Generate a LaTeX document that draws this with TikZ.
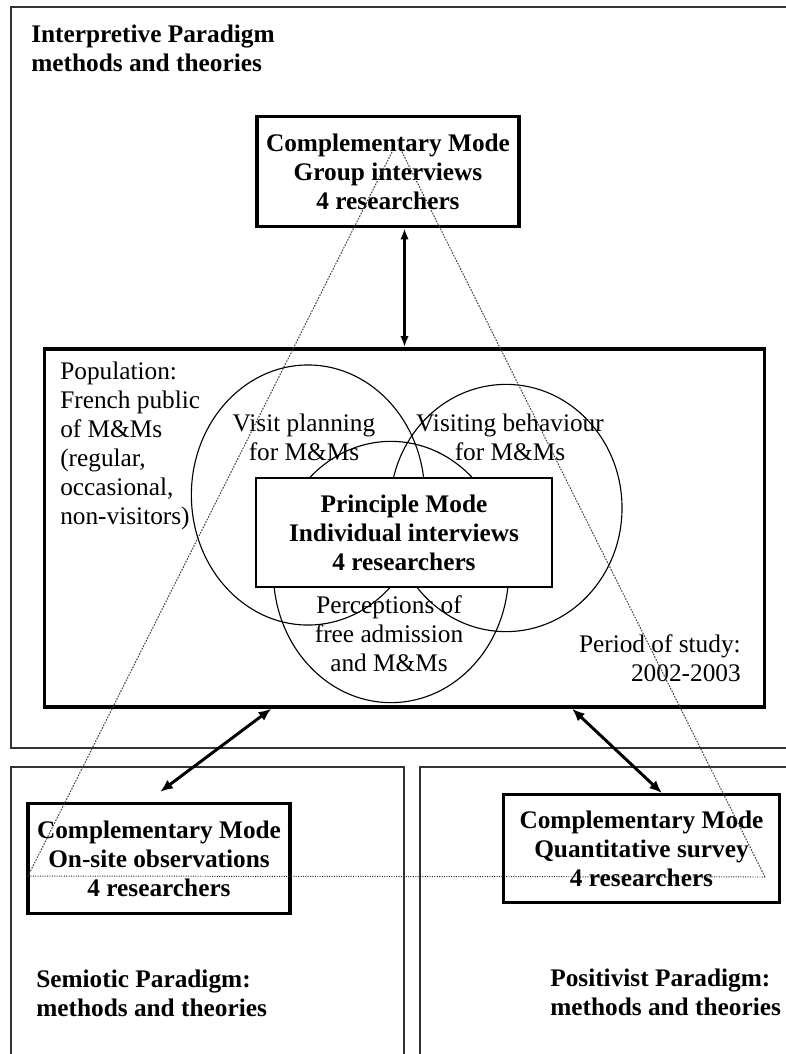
\documentclass[tikz,border=0pt]{standalone}
\usepackage{fontspec}
\setmainfont{Liberation Serif}
\usetikzlibrary{calc,positioning,arrows.meta,shapes.geometric}

\begin{document}
\begin{tikzpicture}[x=0.025cm, y=-0.025cm,
    txt/.style={inner sep=0pt, align=center, font=\fontsize{18}{20.6}\selectfont},
    bold/.style={txt, font=\fontsize{18}{20.6}\selectfont\bfseries},
    modebox/.style={bold, draw, line width=2.4pt, fill=white, minimum width=6.55cm, minimum height=2.75cm},
    region/.style={draw=black!80, line width=0.9pt},
    topic/.style={draw, ellipse, line width=0.8pt, inner sep=0pt},
    link/.style={line width=2.1pt, {Latex[length=9pt,width=7.5pt]}-{Latex[length=9pt,width=7.5pt]}},
    guide/.style={draw=black!75, dash pattern=on 1.2pt off 0.9pt, line width=0.7pt}]

    \useasboundingbox (0,0) rectangle (785,1054);
    % paradigm regions
    \draw[region] (11,7) rectangle (800,748);
    \draw[region] (11,767) rectangle (404,1070);
    \draw[region] (420,767) rectangle (800,1070);
    \node[bold, align=left, anchor=west] (interp) at (31,48) {Interpretive Paradigm\\methods and theories};
    \node[bold, align=left, anchor=west] (semio) at (36,993) {Semiotic Paradigm:\\methods and theories};
    \node[bold, align=left, anchor=west] (posit) at (550,992) {Positivist Paradigm:\\methods and theories};

    % population box and the three topics
    \node[draw, line width=2.4pt, fill=white, minimum width=17.98cm, minimum height=8.95cm] (main) at (404.5,528) {};
    \node[topic, minimum width=5.83cm, minimum height=6.5cm] (planC) at (308,495) {};
    \node[topic, minimum width=5.8cm, minimum height=6.18cm] (behavC) at (506,508) {};
    \node[topic, minimum width=5.88cm, minimum height=6.53cm] (percC) at (391,572) {};
    \node[txt] (plan) at (304,437) {Visit planning\\for M\&Ms};
    \node[txt] (behav) at (510,437) {Visiting behaviour\\for M\&Ms};
    \node[txt] (perc) at (389,634) {Perceptions of\\free admission\\and M\&Ms};
    \node[txt, align=left, anchor=west] (popul) at (60,446) {Population:\\French public\\of M\&Ms\\(regular,\\occasional,\\non-visitors)};
    \node[txt, align=right, anchor=east] (period) at (741,658) {Period of study:\\2002-2003};
    \node[bold, draw, line width=1pt, fill=white, minimum width=7.4cm, minimum height=2.72cm] (principle) at (404,532.5) {Principle Mode\\Individual interviews\\4 researchers};

    % complementary modes
    \node[modebox] (group) at (388,171.5) {Complementary Mode\\Group interviews\\4 researchers};
    \node[modebox] (onsite) at (159,858.5) {Complementary Mode\\On-site observations\\4 researchers};
    \node[modebox, line width=2pt, minimum width=6.9cm, minimum height=2.7cm] (quant) at (641.5,848.5) {Complementary Mode\\Quantitative survey\\4 researchers};

    \draw[link, line width=1.6pt, {Latex[length=8pt,width=6pt]}-{Latex[length=8pt,width=6pt]}] (main.north |- group.south) -- (main.north);
    \draw[link] ([xshift=-3.33cm]main.south) -- ([xshift=0.03cm,yshift=0.25cm]onsite.north);
    \draw[link] ([xshift=4.19cm]main.south) -- ([xshift=0.51cm]quant.north);

    % triangle of the modes
    \draw[guide] (392,152) -- (28,876);
    \draw[guide] (402,152) -- (765,877);
    \draw[guide, densely dotted, draw=black!85] (28,876) -- (765,877);
\end{tikzpicture}
\end{document}
